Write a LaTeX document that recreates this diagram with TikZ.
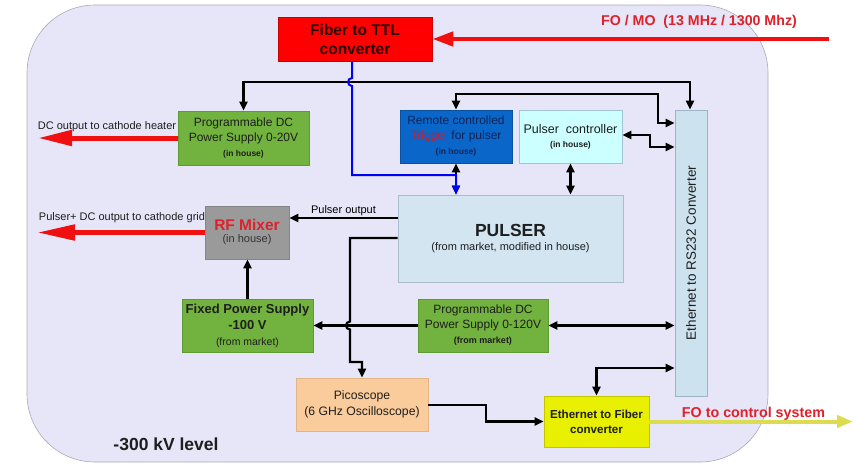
\documentclass[tikz,border=0pt]{standalone}
\usepackage{fontspec}
\setmainfont{Liberation Sans}
\usepackage{graphicx}
\usetikzlibrary{arrows.meta}

\definecolor{bgfill}{HTML}{E6E6F8}
\definecolor{bgline}{HTML}{A8A8B8}
\definecolor{ttlred}{HTML}{FF0000}
\definecolor{ttltext}{HTML}{2A0000}
\definecolor{psgreen}{HTML}{72B23E}
\definecolor{greenline}{HTML}{5E9A32}
\definecolor{trigblue}{HTML}{0A66C8}
\definecolor{navy}{HTML}{10245A}
\definecolor{trigred}{HTML}{C0203A}
\definecolor{ctlcyan}{HTML}{CCFFFF}
\definecolor{ctlline}{HTML}{A4C4D4}
\definecolor{rsfill}{HTML}{CCE2EE}
\definecolor{rsline}{HTML}{9DB3C6}
\definecolor{pulserfill}{HTML}{D2E5F1}
\definecolor{pulserline}{HTML}{A9BDCD}
\definecolor{mixgray}{HTML}{9A9A9A}
\definecolor{mixline}{HTML}{858585}
\definecolor{mixtext}{HTML}{333333}
\definecolor{picofill}{HTML}{FACB9B}
\definecolor{picoline}{HTML}{E2B585}
\definecolor{effill}{HTML}{E8F000}
\definecolor{efline}{HTML}{C4C400}
\definecolor{arrowred}{HTML}{F01010}
\definecolor{labelred}{HTML}{E0202A}
\definecolor{foyellow}{HTML}{DCDC50}
\definecolor{boxtext}{HTML}{1E1E1E}

% font size and baseline skip in one go
\newcommand\setfs[2]{\fontsize{#1}{#2}\selectfont}

\begin{document}
\begin{tikzpicture}[x=1pt, y=1pt, yscale=-1,
  >={Triangle[length=9pt,width=8pt]},
  wire/.style={line width=2.2pt, draw=black},
  bluewire/.style={line width=2pt, draw=blue, -{Triangle[length=9pt,width=7pt]}},
  redarrow/.style={line width=5pt, draw=arrowred},
  box/.style={rectangle, inner sep=0pt, align=center, line width=0.6pt},
  lbl/.style={inner sep=0pt, anchor=center},
]
\useasboundingbox (0,0) rectangle (854,464);

% the -300 kV platform
\draw[draw=bgline, fill=bgfill, line width=0.6pt, rounded corners=68pt] (27,5) rectangle (768,462);

% blocks
\node[box, draw=ttlred!80!black, fill=ttlred, minimum width=154pt, minimum height=44pt,
      text=ttltext, font=\setfs{15.5}{19}\bfseries] (ttl) at (355,39) {Fiber to TTL\\converter};

\node[box, draw=greenline, fill=psgreen, minimum width=131pt, minimum height=54pt,
      text=boxtext, font=\setfs{12}{15}] (ps20) at (243.5,138)
      {Programmable DC\\Power Supply 0-20V\\\setfs{8.5}{14}\bfseries (in house)};

\node[box, draw=trigblue!80!black, fill=trigblue, minimum width=112pt, minimum height=53pt,
      text=navy, font=\setfs{12}{15}] (trig) at (456,136.5)
      {Remote controlled\\\textcolor{trigred}{Trigger} for pulser\\\setfs{8.5}{14}\bfseries (in house)};

\node[box, draw=ctlline, fill=ctlcyan, minimum width=103pt, minimum height=53pt,
      text=boxtext, font=\setfs{12.5}{14}] (pctl) at (570.5,136.5)
      {Pulser\ \ controller\\\setfs{8.5}{13}\bfseries (in house)};

\node[box, draw=rsline, fill=rsfill, minimum width=32pt, minimum height=286pt,
      text=boxtext] (rs232) at (691,253)
      {\rotatebox{90}{\setfs{13.5}{16}Ethernet to RS232 Converter}};

\node[box, draw=pulserline, fill=pulserfill, minimum width=225pt, minimum height=87pt,
      text=boxtext, font=\setfs{17.5}{19}\bfseries] (pulser) at (510.5,238.5)
      {PULSER\\[-5pt]\mdseries\setfs{11}{16}(from market, modified in house)};

\node[box, draw=mixline, fill=mixgray, minimum width=84pt, minimum height=53pt,
      text=labelred, font=\setfs{15.5}{17}\bfseries] (mixer) at (247,232.5)
      {RF Mixer\\[-5pt]\mdseries\setfs{11}{15}\color{mixtext}(in house)};

\node[box, draw=greenline, fill=psgreen, minimum width=131pt, minimum height=53pt,
      text=boxtext, font=\setfs{13}{16}\bfseries] (fixed) at (247.5,325.5)
      {Fixed Power Supply\\-100 V\\\mdseries\setfs{10.5}{14}(from market)};

\node[box, draw=greenline, fill=psgreen, minimum width=130pt, minimum height=53pt,
      text=boxtext, font=\setfs{12}{15}] (ps120) at (483,325.5)
      {Programmable DC\\Power Supply 0-120V\\\setfs{9}{13}\bfseries (from market)};

\node[box, draw=picoline, fill=picofill, minimum width=132pt, minimum height=53pt,
      text=boxtext, font=\setfs{12.2}{16}] (pico) at (362,404.5)
      {Picoscope\\(6 GHz Oscilloscope)};

\node[box, draw=efline, fill=effill, minimum width=105pt, minimum height=51pt,
      text=boxtext, font=\setfs{11.6}{15}\bfseries] (e2f) at (596.5,421.5)
      {Ethernet to Fiber\\converter};

% free ends of the external links
\coordinate (fomo) at (829,39);
\coordinate (heater) at (38,138);
\coordinate (grid) at (37,232.5);
\coordinate (foctl) at (853,421.5);

% external links
\draw[redarrow, line width=4.5pt, -{Triangle[length=21pt,width=14pt]}] (fomo) -- (ttl.east);
\draw[redarrow, -{Triangle[length=34pt,width=15pt]}] (ps20.west) -- (heater);
\draw[redarrow, -{Triangle[length=38pt,width=15pt]}] (mixer.west) -- (grid);
\draw[line width=4pt, draw=foyellow, -{Triangle[length=16pt,width=12pt]}] (e2f.east) -- (foctl);

% control and signal wiring
\draw[wire,<->] (ps20.north) -- (243.5,82) -- (690,82) -- (rs232.north -| 690,0);
\draw[wire,<->] (trig.north) -- (456,94) -- (658,94) -- (658,123) -- (rs232.west |- 0,123);
\draw[wire,<->] (pctl.east |- 0,135) -- (650,135) -- (650,147) -- (rs232.west |- 0,147);
\draw[wire,<->] (pctl.south) -- (pctl.south |- pulser.north);
\draw[wire,<->] (trig.south) -- (trig.south |- pulser.north);
\draw[bluewire] (ttl.south -| 352,0) -- (352,78) arc[start angle=270, end angle=90, radius=4]
      -- (352,175) -- (456,175) -- (trig.south |- pulser.north);

\draw[wire,->] (pulser.west |- 0,218) -- node[midway, above=1.5pt, inner sep=0pt, font=\setfs{11}{13}] {Pulser output} (mixer.east |- 0,218);
\draw[wire,->] (pulser.west |- 0,238) -- (350,238) -- (350,321.5) arc[start angle=270, end angle=90, radius=4]
      -- (350,362) -- (362,362) -- (pico.north);
\draw[wire,->] (ps120.west) -- (fixed.east);
\draw[wire,->] (fixed.north) -- (fixed.north |- mixer.south);
\draw[wire,<->] (ps120.east) -- (ps120.east -| rs232.west);
\draw[wire,->] (pico.east |- 0,405) -- (486,405) -- (486,421.5) -- (e2f.west);
\draw[wire,<->] (e2f.north) -- (596.5,368) -- (rs232.west |- 0,368);

% free labels
\node[lbl, text=labelred, font=\setfs{14.2}{16}\bfseries] (fomolbl) at (699,22) {FO / MO\ \ (13 MHz / 1300 Mhz)};
\node[lbl, text=boxtext, font=\setfs{11}{13}] (heatlbl) at (107,127) {DC output to cathode heater};
\node[lbl, text=boxtext, font=\setfs{11}{13}] (gridlbl) at (122,218) {Pulser+ DC output to cathode grid};
\node[lbl, text=labelred, font=\setfs{14.3}{16}\bfseries] (ctllbl) at (753.5,414) {FO to control system};
\node[lbl, text=boxtext, font=\setfs{17.5}{20}\bfseries] (level) at (166,444) {-300 kV level};
\end{tikzpicture}
\end{document}
